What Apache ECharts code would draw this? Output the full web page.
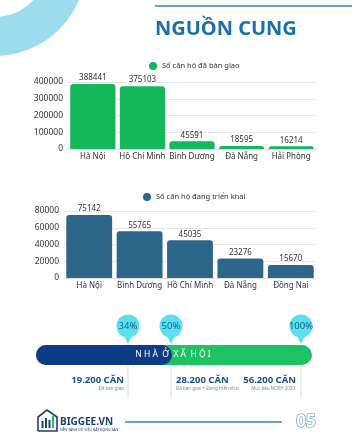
<!DOCTYPE html>
<html>
<head>
<meta charset="utf-8">
<script src="https://cdn.jsdelivr.net/npm/echarts@6/dist/echarts.min.js"></script>
<style>
  html, body { margin: 0; padding: 0; background: #fff; }
  #main { width: 352px; height: 440px; }
</style>
</head>
<body>
<div id="main"></div>
<script>
// data
const cityHandover = ['Hà Nội', 'Hồ Chí Minh', 'Bình Dương', 'Đà Nẵng', 'Hải Phòng'];
const valHandover = [388441, 375103, 45591, 18595, 16214];
const cityBuilding = ['Hà Nội', 'Bình Dương', 'Hồ Chí Minh', 'Đà Nẵng', 'Đồng Nai'];
const valBuilding = [75142, 55765, 45035, 23276, 15670];
const seriesNames = ['Số căn hộ đã bàn giao', 'Số căn hộ đang triển khai'];
const progressPct = ['34%', '50%', '100%'];
const progressAmount = ['19.200 CĂN', '28.200 CĂN', '56.200 CĂN'];
const progressNote = ['Đã bàn giao', 'Đã bàn giao + Đang triển khai', 'Mục tiêu NOXH 2030'];

const FONT = 'Noto Sans';
const navy = '#0d3c84';
const green = '#1fc262';
const cyan = '#5be0f1';

let chart = echarts.init(document.getElementById('main'));

// pin marker: circle + small triangle pointing down
function pin(x, label) {
  return [
    { type: 'polygon', shape: { points: [[x - 5, 334], [x + 5, 334], [x, 344]] }, style: { fill: cyan } },
    { type: 'circle', shape: { cx: x, cy: 326, r: 11.5 }, style: { fill: cyan } },
    { type: 'text', x: x, y: 326, style: { text: label, fill: '#1d5a86', font: '9.5px ' + FONT, align: 'center', verticalAlign: 'middle' } }
  ];
}

let graphics = [
  // decorative ring top-left
  { type: 'ring', shape: { cx: -5, cy: -35, r: 91, r0: 52 }, style: { fill: '#9ddcee' } },
  { type: 'line', shape: { x1: 155, y1: 6, x2: 352, y2: 6 }, style: { stroke: '#3a82b8', lineWidth: 1.5 } },
  { type: 'text', x: 155, y: 29, style: { text: 'NGUỒN CUNG', fill: '#1a70ad', font: 'bold 20px ' + FONT, verticalAlign: 'middle' } },

  // progress bar
  { type: 'rect', shape: { x: 36, y: 345, width: 276, height: 20, r: 10 }, style: { fill: green } },
  { type: 'rect', shape: { x: 36, y: 345, width: 136, height: 20, r: 10 }, style: { fill: navy } },
  { type: 'text', x: 173, y: 355, style: { text: 'N H À  Ở  X Ã  H Ộ I', fill: '#fff', font: '8.5px ' + FONT, align: 'center', verticalAlign: 'middle' } },
  { type: 'line', shape: { x1: 128, y1: 365, x2: 128, y2: 398 }, style: { stroke: '#cfe2ea', lineWidth: 1 } },
  { type: 'line', shape: { x1: 171, y1: 365, x2: 171, y2: 398 }, style: { stroke: '#cfe2ea', lineWidth: 1 } },
  { type: 'line', shape: { x1: 301, y1: 365, x2: 301, y2: 398 }, style: { stroke: '#cfe2ea', lineWidth: 1 } },

  { type: 'text', x: 124, y: 380, style: { text: progressAmount[0], fill: '#1b4f8c', font: 'bold 9.5px ' + FONT, align: 'right', verticalAlign: 'middle' } },
  { type: 'text', x: 124, y: 389, style: { text: progressNote[0], fill: '#888', font: '4.5px ' + FONT, align: 'right', verticalAlign: 'middle' } },
  { type: 'text', x: 176, y: 380, style: { text: progressAmount[1], fill: '#1b4f8c', font: 'bold 9.5px ' + FONT, align: 'left', verticalAlign: 'middle' } },
  { type: 'text', x: 176, y: 389, style: { text: progressNote[1], fill: '#888', font: '4.5px ' + FONT, align: 'left', verticalAlign: 'middle' } },
  { type: 'text', x: 296, y: 380, style: { text: progressAmount[2], fill: '#1b4f8c', font: 'bold 9.5px ' + FONT, align: 'right', verticalAlign: 'middle' } },
  { type: 'text', x: 295, y: 389, style: { text: progressNote[2], fill: '#888', font: '4.5px ' + FONT, align: 'right', verticalAlign: 'middle' } },

  // footer logo
  { type: 'polyline', shape: { points: [[38, 431], [38, 417], [47, 410], [57, 417], [57, 431], [38, 431]] }, style: { stroke: '#1d3f7a', lineWidth: 1.6, fill: 'none' } },
  { type: 'rect', shape: { x: 41.5, y: 421, width: 2, height: 7 }, style: { fill: '#1d3f7a' } },
  { type: 'rect', shape: { x: 45, y: 418, width: 2, height: 10 }, style: { fill: '#1d3f7a' } },
  { type: 'rect', shape: { x: 48.5, y: 420, width: 2, height: 8 }, style: { fill: '#1d3f7a' } },
  { type: 'rect', shape: { x: 52, y: 416, width: 2, height: 12 }, style: { fill: green } },
  { type: 'text', x: 60, y: 422, style: { text: 'BIGGEE.VN', fill: '#1d3f7a', font: 'bold 10px ' + FONT, verticalAlign: 'middle' } },
  { type: 'text', x: 60, y: 430, style: { text: 'NỀN TẢNG DỮ LIỆU BẤT ĐỘNG SẢN', fill: '#1d3f7a', font: '3.5px ' + FONT, verticalAlign: 'middle' } },
  { type: 'line', shape: { x1: 125, y1: 422, x2: 282, y2: 422 }, style: { stroke: '#3c80b3', lineWidth: 1.5 } },
  { type: 'text', x: 306, y: 422, style: { text: '05', fill: '#fff', stroke: '#4f98c8', lineWidth: 1.2, font: 'bold 17px ' + FONT, align: 'center', verticalAlign: 'middle' } }
];
progressPct.forEach((p, i) => { graphics = graphics.concat(pin([128, 171, 301][i], p)); });

const axisLabel = { fontFamily: FONT, fontSize: 8.5, color: '#333' };
const plain = v => String(v);

chart.setOption({
  animation: false,
  textStyle: { fontFamily: FONT },
  legend: [
    { data: [seriesNames[0]], top: 57, left: 144, icon: 'circle', itemWidth: 8, itemHeight: 8, itemGap: 5,
      textStyle: { fontFamily: FONT, fontSize: 7.5, color: '#333' } },
    { data: [seriesNames[1]], top: 188, left: 138, icon: 'circle', itemWidth: 8, itemHeight: 8, itemGap: 5,
      textStyle: { fontFamily: FONT, fontSize: 7.5, color: '#333' } }
  ],
  grid: [
    { left: 68, right: 36, top: 82, height: 67 },
    { left: 64, right: 36, top: 211, height: 67 }
  ],
  xAxis: [
    { type: 'category', gridIndex: 0, data: cityHandover, axisTick: { show: false },
      axisLine: { lineStyle: { color: '#ddd' } }, axisLabel: Object.assign({ margin: 4, interval: 0 }, axisLabel, { fontSize: 8 }) },
    { type: 'category', gridIndex: 1, data: cityBuilding, axisTick: { show: false },
      axisLine: { lineStyle: { color: '#ddd' } }, axisLabel: Object.assign({ margin: 4, interval: 0 }, axisLabel, { fontSize: 8 }) }
  ],
  yAxis: [
    { type: 'value', gridIndex: 0, min: 0, max: 400000, interval: 100000,
      splitLine: { lineStyle: { color: '#e8e8e8' } }, axisLabel: Object.assign({ margin: 5, formatter: plain }, axisLabel) },
    { type: 'value', gridIndex: 1, min: 0, max: 80000, interval: 20000,
      splitLine: { lineStyle: { color: '#e8e8e8' } }, axisLabel: Object.assign({ margin: 5, formatter: plain }, axisLabel) }
  ],
  series: [
    { name: seriesNames[0], type: 'bar', xAxisIndex: 0, yAxisIndex: 0, data: valHandover,
      barCategoryGap: '9%', itemStyle: { color: '#15b75b', borderRadius: [3, 3, 0, 0] },
      label: { show: true, position: 'top', distance: 2, fontFamily: FONT, fontSize: 8, color: '#333' } },
    { name: seriesNames[1], type: 'bar', xAxisIndex: 1, yAxisIndex: 1, data: valBuilding,
      barCategoryGap: '9%', itemStyle: { color: '#2c6688', borderRadius: [3, 3, 0, 0] },
      label: { show: true, position: 'top', distance: 2, fontFamily: FONT, fontSize: 8, color: '#333' } }
  ],
  graphic: graphics
});

window.onresize = () => { chart.resize(); };
</script>
</body>
</html>
